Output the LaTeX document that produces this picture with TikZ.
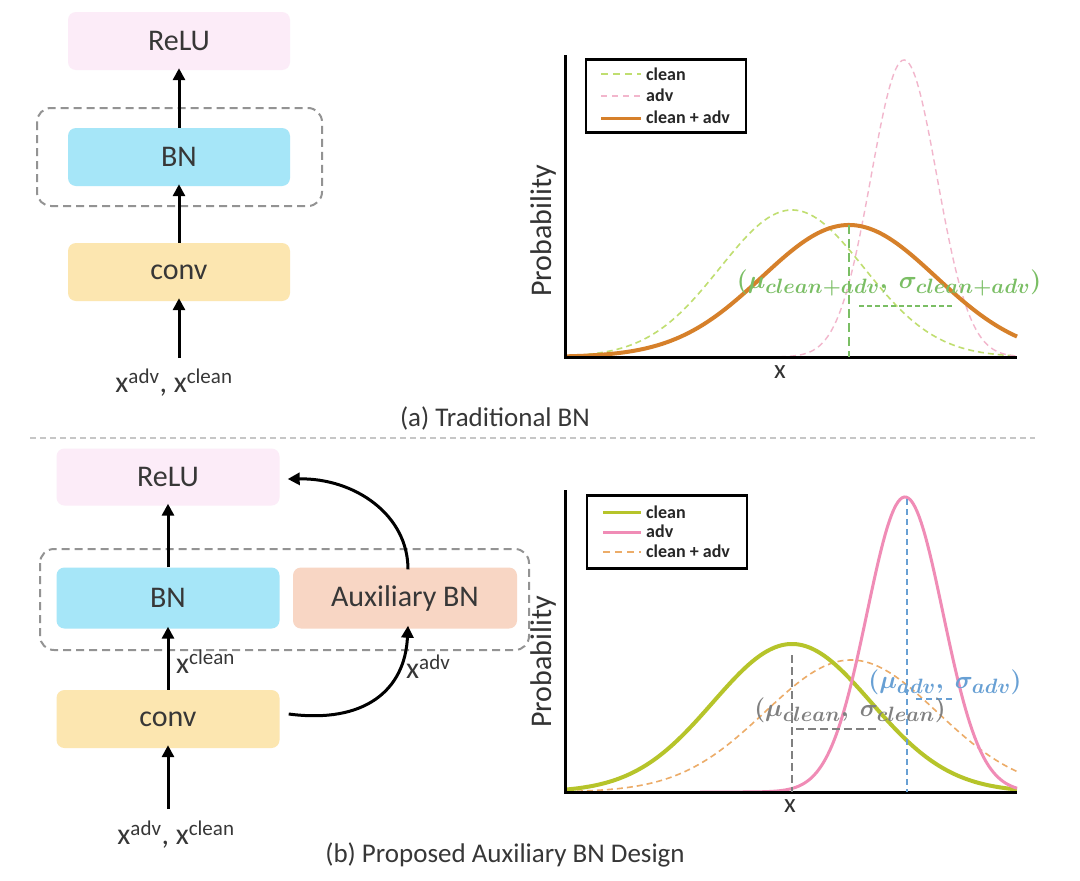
\documentclass[tikz,border=0pt]{standalone}
\usepackage{amsmath}
\usepackage{fontspec}
\setmainfont{Carlito}
\usetikzlibrary{arrows.meta}
\definecolor{relu}{RGB}{252,236,248}
\definecolor{bn}{RGB}{166,230,248}
\definecolor{convc}{RGB}{252,230,176}
\definecolor{aux}{RGB}{248,214,196}
\definecolor{txt}{RGB}{55,55,55}
\definecolor{cleanA}{RGB}{192,222,112}
\definecolor{advA}{RGB}{242,182,204}
\definecolor{mixA}{RGB}{214,128,42}
\definecolor{greenlab}{RGB}{122,190,100}
\definecolor{cleanB}{RGB}{182,196,42}
\definecolor{advB}{RGB}{240,140,182}
\definecolor{mixB}{RGB}{236,172,104}
\definecolor{bluelab}{RGB}{104,160,212}
\definecolor{graylab}{RGB}{128,128,128}
\begin{document}
\begin{tikzpicture}[x=1pt,y=-1pt,
  declare function={gs(\x,\m,\s,\h)=\h*exp(-0.5*((\x-\m)/\s)^2);},
  box/.style={rounded corners=8pt, minimum width=222pt, minimum height=58pt, inner sep=0pt,
    font=\fontsize{30}{36}\selectfont, text=txt},
  arr/.style={line width=3pt, -{Triangle[length=12pt,width=12pt]}},
  grp/.style={draw=gray!85, line width=2pt, rounded corners=14pt, dash pattern=on 8pt off 5pt},
  lbl/.style={font=\fontsize{30}{36}\selectfont, text=txt, inner sep=0pt},
  captxt/.style={font=\fontsize{27}{32}\selectfont, text=txt},
  axisline/.style={line width=3pt, black},
  legbox/.style={draw=black, line width=2.5pt, minimum width=160pt, minimum height=73pt, inner sep=0pt},
  legt/.style={font=\bfseries\fontsize{18}{20}\selectfont, text=black!85, anchor=west, inner sep=0pt},
  mlab/.style={font=\fontsize{28}{32}\selectfont, inner sep=0pt},
  plab/.style={font=\fontsize{30}{36}\selectfont, text=black!80, inner sep=0pt}
]
\useasboundingbox (0,0) rectangle (1080,881);
\fill[white] (0,0) rectangle (1080,881);

% ---------------- (a) left block ----------------
\node[box, fill=relu] (reluA) at (179,41) {ReLU};
\node[box, fill=bn] (bnA) at (179,157) {BN};
\node[box, fill=convc] (convA) at (179,272) {conv};
\draw[grp] (37,108) rectangle (322,206);
\coordinate (inA) at (179,358);
\node[lbl] (xinA) at (174,383) {x\textsuperscript{adv}, x\textsuperscript{clean}};
\draw[arr] (inA) -- ([yshift=3pt]convA.south);
\draw[arr] (convA.north) -- ([yshift=2pt]bnA.south);
\draw[arr] (bnA.north) -- ([yshift=2pt]reluA.south);
\node[captxt] (capA) at (495,418) {(a) Traditional BN};

% separator
\draw[gray!45, line width=1.5pt, dash pattern=on 6pt off 4pt] (30,438) -- (1035,438);

% ---------------- (a) plot ----------------
\draw[cleanA, line width=1.6pt, dash pattern=on 6pt off 4pt] plot[domain=567:1017, samples=150] (\x, {357-gs(\x,792,72,147)});
\draw[advA, line width=1.4pt, dash pattern=on 6pt off 4pt] plot[domain=700:1017, samples=150] (\x, {357-gs(\x,904,33,297)});
\draw[mixA, line width=4pt] plot[domain=567:1017, samples=150] (\x, {357-gs(\x,849,87,132)});
\draw[axisline] (565,55) -- (565,357) -- (1017,357);
\draw[greenlab, line width=2pt, dash pattern=on 9pt off 5pt] (849,225) -- (849,357);
\draw[greenlab, line width=1.5pt, dash pattern=on 5pt off 3pt] (859,306) -- (954,306);
\node[mlab, text=greenlab] (mA) at (889,283) {$\boldsymbol{(\mu_{clean+adv},\ \sigma_{clean+adv})}$};
\node[plab, rotate=90] (probA) at (543,231) {Probability};
\node[plab, font=\fontsize{27}{30}\selectfont] (xA) at (780,372) {x};
\node[legbox] (legA) at (666,96) {};
\draw[cleanA, line width=2.5pt, dash pattern=on 7pt off 5pt] (601,74) -- (641,74);
\draw[advA, line width=1.5pt, dash pattern=on 6pt off 5pt] (601,96) -- (641,96);
\draw[mixA, line width=3pt] (601,118) -- (641,118);
\node[legt] (lA1) at (646,74) {clean};
\node[legt] (lA2) at (646,95) {adv};
\node[legt] (lA3) at (646,117) {clean + adv};

% ---------------- (b) left block ----------------
\node[box, fill=relu, minimum width=223pt, minimum height=57pt] (reluB) at (168,477) {ReLU};
\node[box, fill=bn, minimum width=223pt, minimum height=61pt] (bnB) at (168,598) {BN};
\node[box, fill=aux, minimum width=224pt, minimum height=61pt] (auxB) at (405,598) {Auxiliary BN};
\node[box, fill=convc, minimum width=223pt, minimum height=58pt] (convB) at (168,719) {conv};
\draw[grp] (40,549) rectangle (529,650);
\coordinate (inB) at (168,809);
\node[lbl] (xinB) at (176,835) {x\textsuperscript{adv}, x\textsuperscript{clean}};
\draw[arr] (inB) -- ([yshift=3pt]convB.south);
\draw[arr] (convB.north) -- ([yshift=2pt]bnB.south);
\draw[arr] (bnB.north) -- ([yshift=2pt]reluB.south);
\node[lbl, anchor=west] (xcl) at (176,662) {x\textsuperscript{clean}};
\draw[arr] ([xshift=9pt,yshift=5pt]convB.east) .. controls (365,724) and (405,690) .. ([xshift=3pt,yshift=3pt]auxB.south);
\node[lbl, anchor=west] (xadv) at (406,667) {x\textsuperscript{adv}};
\draw[arr] ([xshift=3pt,yshift=-2pt]auxB.north) .. controls (408,515) and (355,478) .. ([xshift=8pt,yshift=-2pt]reluB.east);
\node[captxt] (capB) at (505,855) {(b) Proposed Auxiliary BN Design};

% ---------------- (b) plot ----------------
\draw[mixB, line width=1.6pt, dash pattern=on 6pt off 4pt] plot[domain=567:1017, samples=150] (\x, {792-gs(\x,851,86,132)});
\draw[cleanB, line width=4pt] plot[domain=567:1017, samples=150] (\x, {792-gs(\x,792,79,148)});
\draw[advB, line width=3pt] plot[domain=700:1017, samples=150] (\x, {792-gs(\x,905,38,295)});
\draw[axisline] (565,490) -- (565,792) -- (1017,792);
\draw[bluelab, line width=1.5pt, dash pattern=on 6pt off 4pt] (907,499) -- (907,792);
\draw[graylab, line width=2pt, dash pattern=on 8pt off 4pt] (792,655) -- (792,792);
\draw[graylab, line width=2pt, dash pattern=on 8pt off 4pt] (796,729) -- (880,729);
\draw[bluelab, line width=1.5pt, dash pattern=on 6pt off 4pt] (916,699) -- (953,699);
\node[mlab, text=bluelab] (mB1) at (945,682) {$\boldsymbol{(\mu_{adv},\ \sigma_{adv})}$};
\node[mlab, text=graylab] (mB2) at (850,710) {$\boldsymbol{(\mu_{clean},\ \sigma_{clean})}$};
\node[plab, rotate=90] (probB) at (543,662) {Probability};
\node[plab, font=\fontsize{27}{30}\selectfont] (xB) at (790,806) {x};
\node[legbox] (legB) at (667,532) {};
\draw[cleanB, line width=3pt] (603,512) -- (641,512);
\draw[advB, line width=3pt] (603,532) -- (641,532);
\draw[mixB, line width=2pt, dash pattern=on 7pt off 5pt] (603,552) -- (641,552);
\node[legt] (lB1) at (646,512) {clean};
\node[legt] (lB2) at (646,531) {adv};
\node[legt] (lB3) at (646,551) {clean + adv};
\end{tikzpicture}
\end{document}
